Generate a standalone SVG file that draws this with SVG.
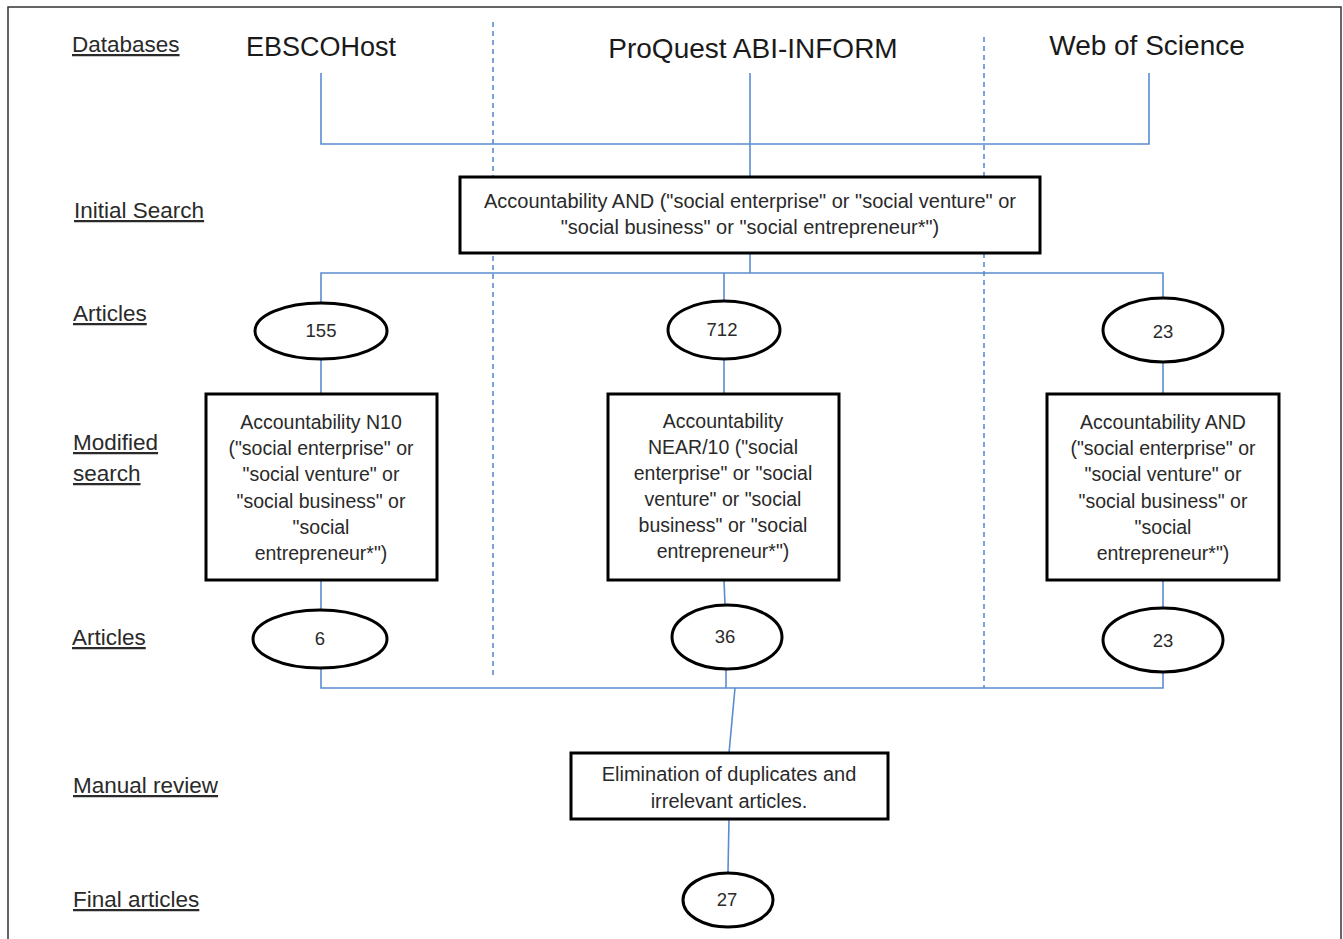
<svg xmlns="http://www.w3.org/2000/svg" width="1343" height="939" viewBox="0 0 1343 939">
<style>
.lbl{font-family:"Liberation Sans",Arial,sans-serif;font-size:22.5px;fill:#2a2a2a;text-decoration:underline}
.db{font-family:"Liberation Sans",Arial,sans-serif;font-size:28px;fill:#1a1a1a;text-anchor:middle}
.bt{font-family:"Liberation Sans",Arial,sans-serif;font-size:19.5px;fill:#2a2a2a;text-anchor:middle}
.bt2{font-family:"Liberation Sans",Arial,sans-serif;font-size:20px;fill:#2a2a2a;text-anchor:middle}
.num{font-family:"Liberation Sans",Arial,sans-serif;font-size:18.5px;fill:#2a2a2a;text-anchor:middle}
.box{fill:#fff;stroke:#000;stroke-width:3}
.ell{fill:#fff;stroke:#000;stroke-width:3}
.con{fill:none;stroke:#5b8cd0;stroke-width:1.6}
.dash{fill:none;stroke:#5b8cd0;stroke-width:1.6;stroke-dasharray:5,4}
</style>
<rect x="0" y="0" width="1343" height="939" fill="#fff"/>
<rect x="8" y="7" width="1333" height="945" fill="none" stroke="#333" stroke-width="1.5"/>

<g id="labels">
<text class="lbl" x="72" y="52">Databases</text>
<text class="lbl" x="74" y="218">Initial Search</text>
<text class="lbl" x="73" y="321">Articles</text>
<text class="lbl" x="73" y="450">Modified</text>
<text class="lbl" x="73" y="481">search</text>
<text class="lbl" x="72" y="645">Articles</text>
<text class="lbl" x="73" y="793">Manual review</text>
<text class="lbl" x="73" y="907">Final articles</text>
</g>

<g id="dividers">
<line class="dash" x1="493" y1="22" x2="493" y2="675"/>
<line class="dash" x1="984" y1="37" x2="984" y2="688"/>
</g>

<g id="connectors">
<polyline class="con" points="321,73 321,144 1149,144 1149,73"/>
<line class="con" x1="750" y1="73" x2="750" y2="177"/>
<line class="con" x1="750" y1="253" x2="750" y2="273"/>
<polyline class="con" points="321,302 321,273 1163,273 1163,298"/>
<line class="con" x1="724" y1="273" x2="724" y2="301"/>
<line class="con" x1="321" y1="359" x2="321" y2="394"/>
<line class="con" x1="724" y1="359" x2="724" y2="394"/>
<line class="con" x1="1163" y1="362" x2="1163" y2="394"/>
<line class="con" x1="321" y1="580" x2="321" y2="610"/>
<line class="con" x1="724" y1="580" x2="725" y2="605"/>
<line class="con" x1="1163" y1="580" x2="1163" y2="608"/>
<polyline class="con" points="321,668 321,688 1163,688 1163,672"/>
<line class="con" x1="726" y1="669" x2="726" y2="688"/>
<line class="con" x1="735" y1="688" x2="729" y2="753"/>
<line class="con" x1="729" y1="819" x2="728" y2="872"/>
</g>

<g id="db-ebsco"><text class="db" x="321" y="56" style="font-size:27px">EBSCOHost</text></g>
<g id="db-proquest"><text class="db" x="753" y="58">ProQuest ABI-INFORM</text></g>
<g id="db-wos"><text class="db" x="1147" y="55">Web of Science</text></g>

<g id="initial-search">
<rect class="box" x="460" y="177" width="580" height="76"/>
<text class="bt2" x="750" y="208">Accountability AND ("social enterprise" or "social venture" or</text>
<text class="bt2" x="750" y="234">"social business" or "social entrepreneur*")</text>
</g>

<g id="art-ebsco"><ellipse class="ell" cx="321" cy="331" rx="66" ry="28"/><text class="num" x="321" y="337">155</text></g>
<g id="art-proquest"><ellipse class="ell" cx="724" cy="330" rx="56" ry="29"/><text class="num" x="722" y="336">712</text></g>
<g id="art-wos"><ellipse class="ell" cx="1163" cy="330" rx="60" ry="32"/><text class="num" x="1163" y="338">23</text></g>

<g id="mod-ebsco">
<rect class="box" x="206" y="394" width="231" height="186"/>
<text class="bt" x="321" y="429">Accountability N10</text>
<text class="bt" x="321" y="455">("social enterprise" or</text>
<text class="bt" x="321" y="481">"social venture" or</text>
<text class="bt" x="321" y="508">"social business" or</text>
<text class="bt" x="321" y="534">"social</text>
<text class="bt" x="321" y="560">entrepreneur*")</text>
</g>
<g id="mod-proquest">
<rect class="box" x="608" y="394" width="231" height="186"/>
<text class="bt" x="723" y="428">Accountability</text>
<text class="bt" x="723" y="454">NEAR/10 ("social</text>
<text class="bt" x="723" y="480">enterprise" or "social</text>
<text class="bt" x="723" y="506">venture" or "social</text>
<text class="bt" x="723" y="532">business" or "social</text>
<text class="bt" x="723" y="558">entrepreneur*")</text>
</g>
<g id="mod-wos">
<rect class="box" x="1047" y="394" width="232" height="186"/>
<text class="bt" x="1163" y="429">Accountability AND</text>
<text class="bt" x="1163" y="455">("social enterprise" or</text>
<text class="bt" x="1163" y="481">"social venture" or</text>
<text class="bt" x="1163" y="508">"social business" or</text>
<text class="bt" x="1163" y="534">"social</text>
<text class="bt" x="1163" y="560">entrepreneur*")</text>
</g>

<g id="res-ebsco"><ellipse class="ell" cx="320" cy="639" rx="67" ry="29"/><text class="num" x="320" y="645">6</text></g>
<g id="res-proquest"><ellipse class="ell" cx="727" cy="637" rx="55" ry="32"/><text class="num" x="725" y="643">36</text></g>
<g id="res-wos"><ellipse class="ell" cx="1163" cy="640" rx="60" ry="32"/><text class="num" x="1163" y="647">23</text></g>

<g id="manual-review">
<rect class="box" x="571" y="753" width="317" height="66"/>
<text class="bt2" x="729" y="781">Elimination of duplicates and</text>
<text class="bt2" x="729" y="808">irrelevant articles.</text>
</g>

<g id="final"><ellipse class="ell" cx="728" cy="900" rx="45" ry="27"/><text class="num" x="727" y="906">27</text></g>
</svg>
